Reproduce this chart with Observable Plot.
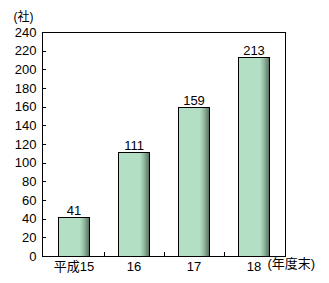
<!DOCTYPE html>
<html>
<head>
<meta charset="utf-8">
<script src="https://cdn.jsdelivr.net/npm/d3@7"></script>
<script src="https://cdn.jsdelivr.net/npm/@observablehq/plot@0.6"></script>
<style>
  html, body { margin: 0; padding: 0; background: #fff; }
</style>
</head>
<body>
<div id="chart"></div>
<script>
// Fiscal years (end of year) and number of companies
const years = ["平成15", "16", "17", "18"];
const companies = [41, 111, 159, 213];
const yTicks = [0, 20, 40, 60, 80, 100, 120, 140, 160, 180, 200, 220, 240];
const yUnit = "(社)";
const xUnit = "(年度末)";

const rows = years.map((year, i) => ({year, value: companies[i]}));

const font = "'Liberation Sans', Arial, 'Noto Sans CJK JP', sans-serif";

const chart = Plot.plot({
  width: 329,
  height: 283,
  marginTop: 32,
  marginBottom: 27,
  marginLeft: 42,
  marginRight: 44,
  style: {fontFamily: font, fontSize: "13px", color: "#000", background: "#fff"},
  x: {domain: years, paddingInner: 0.49, paddingOuter: 0.245, label: null},
  y: {domain: [0, 240], label: null},
  marks: [
    Plot.barY(rows, {x: "year", y: "value", fill: "url(#barShade)", stroke: "#000", strokeWidth: 1, shapeRendering: "crispEdges"}),
    Plot.text(rows, {x: "year", y: "value", text: d => String(d.value), lineAnchor: "bottom", dy: -3, fontSize: 13, fill: "#000", letterSpacing: "0.5px"}),
    Plot.frame({stroke: "#000", strokeWidth: 1, shapeRendering: "crispEdges"}),
    Plot.axisY(yTicks, {tickSize: 0, tickPadding: 6, fontSize: 13, fill: "#000"}),
    Plot.axisX({tickSize: 0, tickPadding: 5, fontSize: 13, fill: "#000"}),
    Plot.text([yUnit], {frameAnchor: "top-left", text: d => d, textAnchor: "middle", lineAnchor: "middle", dx: -19, dy: -15, fontSize: 12, fill: "#000"}),
    Plot.text([xUnit], {frameAnchor: "bottom-right", text: d => d, textAnchor: "start", lineAnchor: "top", dx: -18, dy: 2, fontSize: 13, fill: "#000"})
  ]
});

// Horizontal shading for the bars: flat green fading to a darker edge on the right
const svg = d3.select(chart);
const grad = svg.insert("defs", ":first-child")
  .append("linearGradient")
  .attr("id", "barShade")
  .attr("x1", "0").attr("x2", "1").attr("y1", "0").attr("y2", "0");
[[0, "#b3e0c4"], [0.7, "#b3e0c4"], [0.82, "#98bfa6"], [1, "#5c7565"]].forEach(([o, c]) =>
  grad.append("stop").attr("offset", o).attr("stop-color", c));

// Inward tick marks on the value axis and between the categories
const sx = chart.scale("x");
const sy = chart.scale("y");
const left = 42, bottom = 283 - 27;
const ticks = svg.append("g").attr("stroke", "#000").attr("stroke-width", 1).attr("shape-rendering", "crispEdges");
yTicks.slice(1, -1).forEach(v => {
  const y = Math.round(sy.apply(v)) + 0.5;
  ticks.append("line").attr("x1", left).attr("x2", left + 4).attr("y1", y).attr("y2", y);
});
years.slice(1).forEach((c, i) => {
  const prevEnd = sx.apply(years[i]) + sx.bandwidth;
  const x = Math.round((prevEnd + sx.apply(c)) / 2) + 0.5;
  ticks.append("line").attr("x1", x).attr("x2", x).attr("y1", bottom).attr("y2", bottom - 4);
});

document.getElementById("chart").appendChild(chart);
</script>
</body>
</html>
